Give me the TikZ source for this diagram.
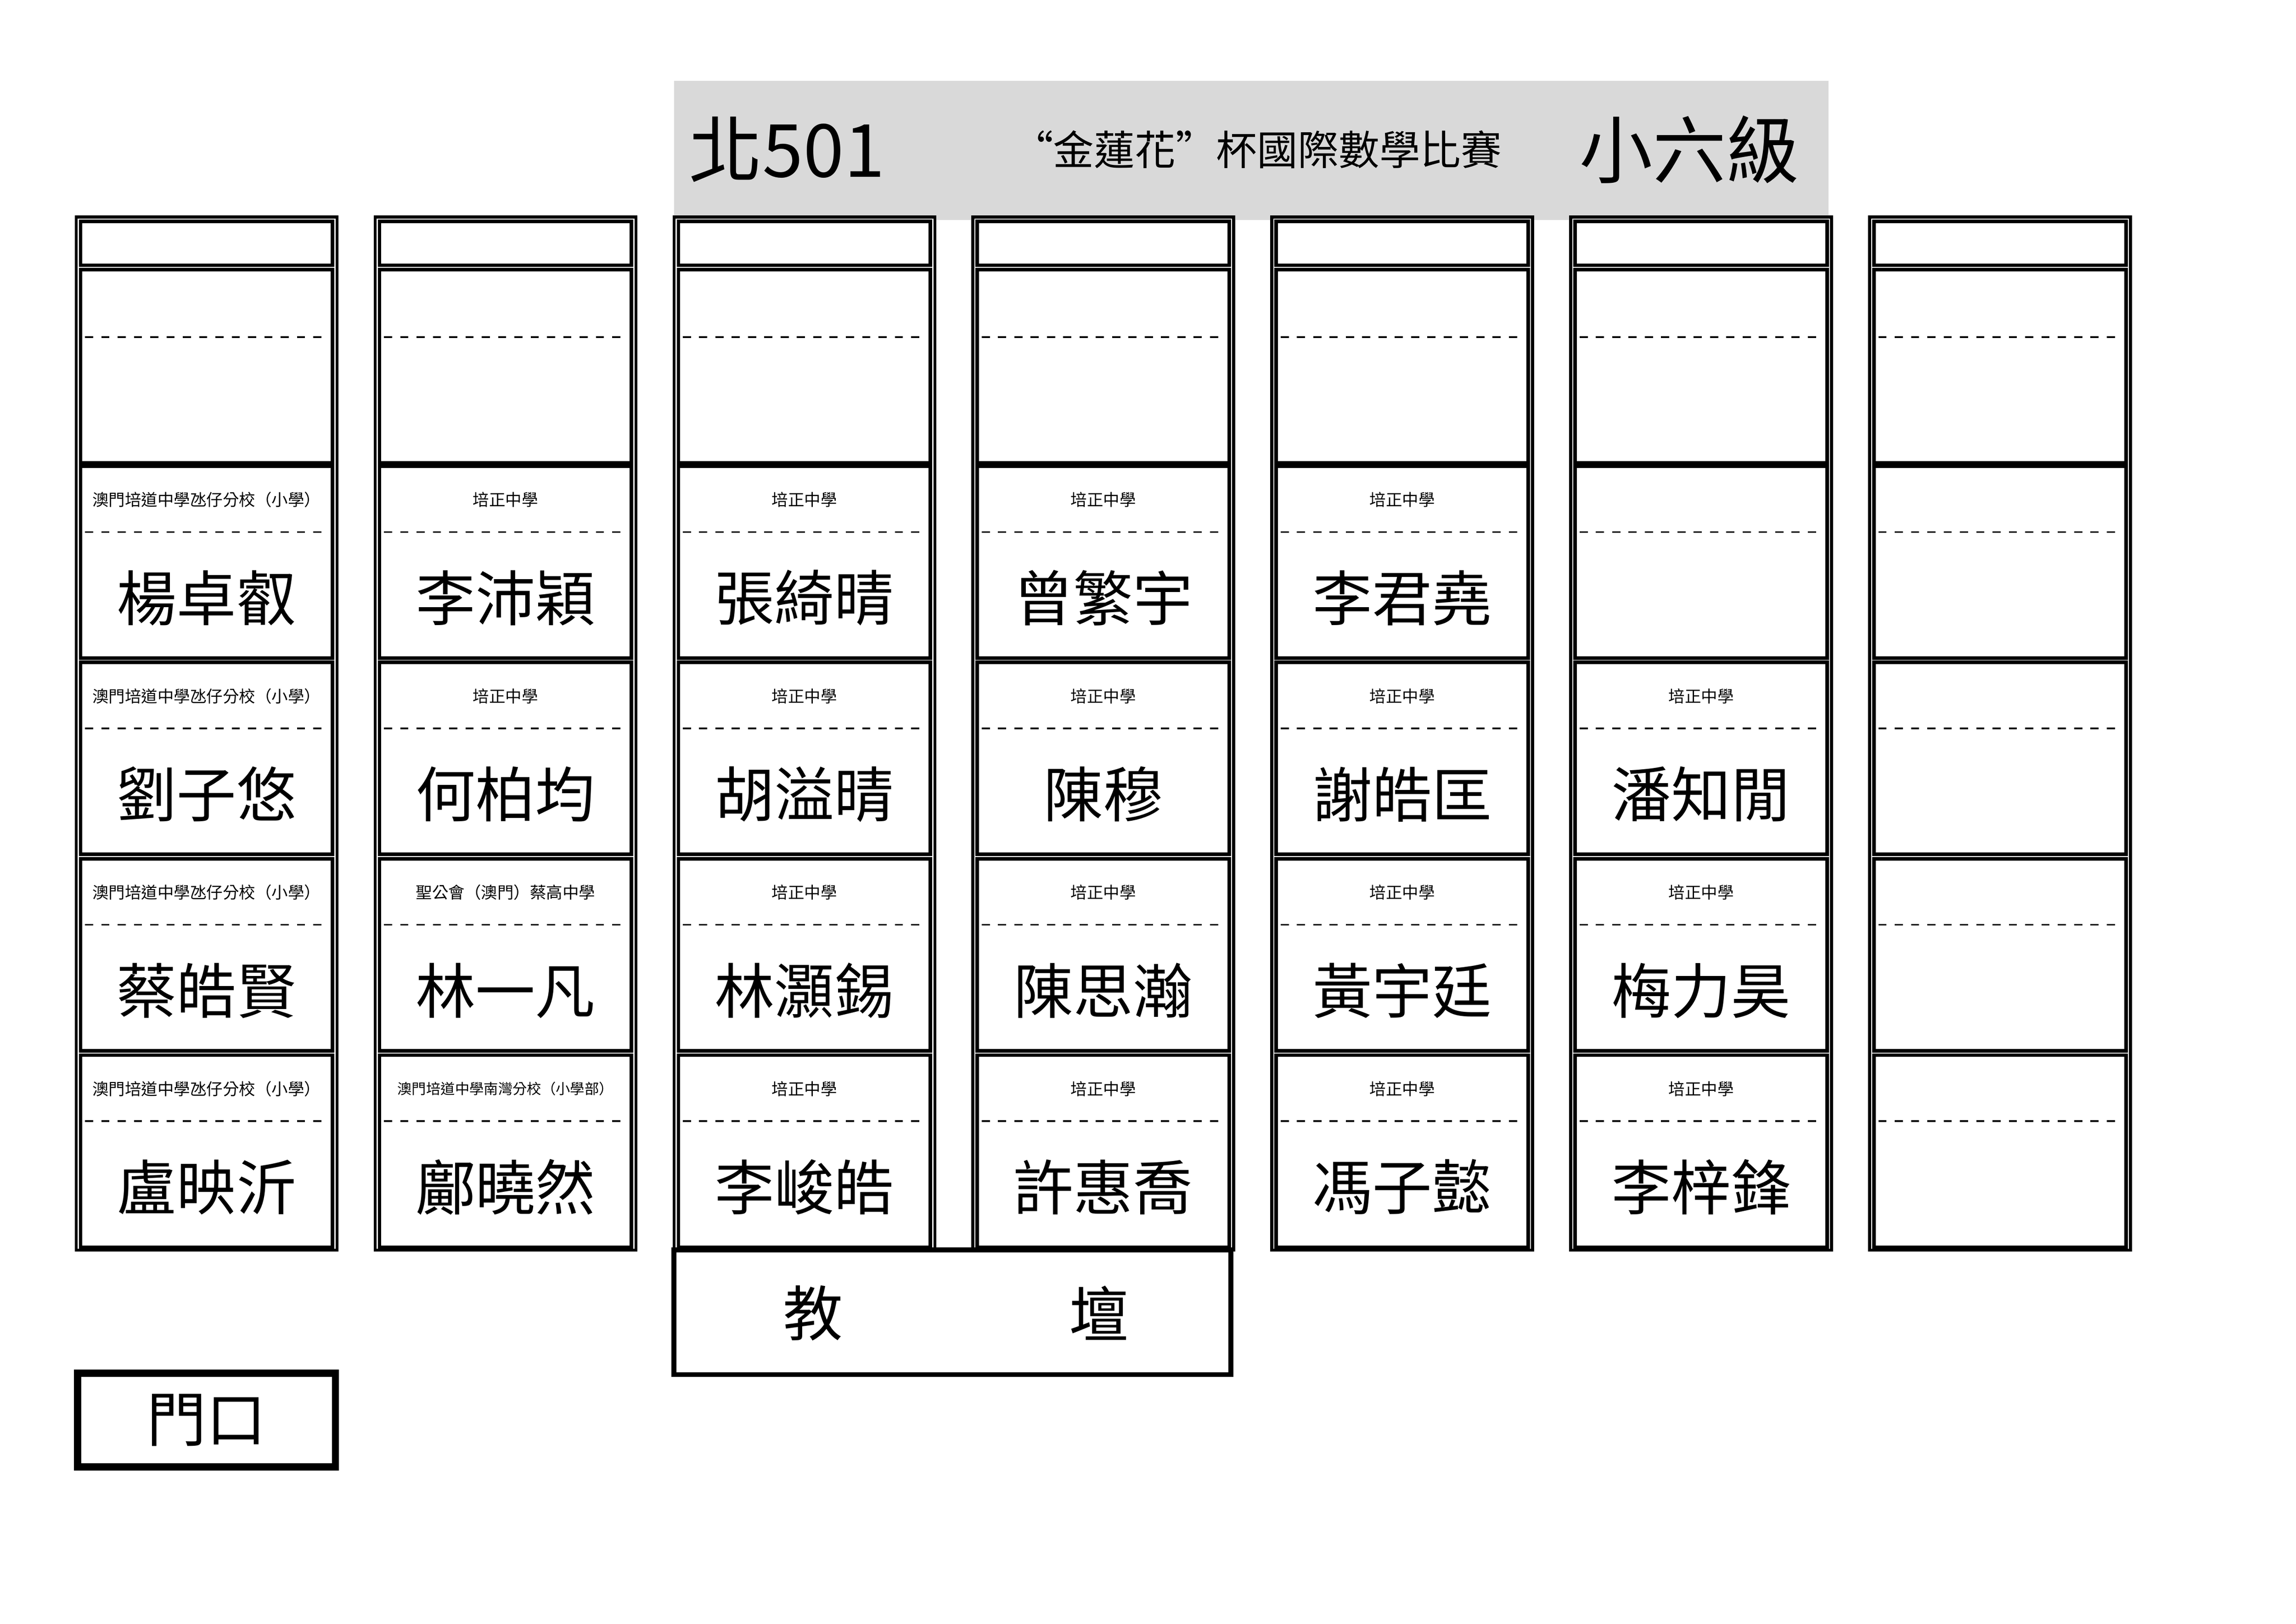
\documentclass[tikz,border=0pt]{standalone}
\usepackage{fontspec}
\setmainfont{Noto Sans CJK TC}
\usetikzlibrary{positioning}
\tikzset{
  ColBox/.style={draw=black,line width=1.1pt},
  CellBox/.style={draw=black,line width=1.3pt},
  CutLine/.style={draw=black,dashed,line width=0.6pt},
  School/.style={font=\fontsize{6}{7}\selectfont,inner sep=0pt},
  Name/.style={font=\fontsize{22}{24}\selectfont,inner sep=0pt},
}
% one seat: column, row, school, name
\newcommand{\seat}[4]{%
  \pgfmathsetmacro{\cx}{52+204*(#1-1)}%
  \pgfmathsetmacro{\cy}{318+134*(#2-1)}%
  \draw[CellBox] (\cx+3,\cy) rectangle (\cx+175,\cy+131);
  \draw[CutLine] (\cx+6,\cy+45) -- (\cx+172,\cy+45);
  \node[School] (s#1#2) at (\cx+89,\cy+23) {#3};
  \node[Name] (n#1#2) at (\cx+89,\cy+90) {#4};
}
\begin{document}
\begin{tikzpicture}[x=0.01895cm,y=-0.01895cm]
  \useasboundingbox (0,0) rectangle (1567,1108);
  % title bar
  \fill[gray!30] (460,55) rectangle (1248,150);
  \node[font=\fontsize{27}{30}\selectfont,anchor=west,inner sep=0pt] (room) at (470,102) {北501};
  \node[font=\fontsize{15}{17}\selectfont,inner sep=0pt] (title) at (858,102) {“金蓮花”杯國際數學比賽};
  \node[font=\fontsize{27}{30}\selectfont,inner sep=0pt] (grade) at (1153,102) {小六級};
  % columns with empty top cells
  \foreach \c in {1,...,7}{
    \pgfmathsetmacro{\cx}{52+204*(\c-1)}
    \draw[ColBox] (\cx,148) rectangle (\cx+178,853);
    \draw[CellBox] (\cx+3,151) rectangle (\cx+175,181);
    \draw[CellBox] (\cx+3,184) rectangle (\cx+175,316);
    \draw[CutLine] (\cx+6,230) -- (\cx+172,230);
  }
  % seats
  \seat{1}{1}{澳門培道中學氹仔分校（小學）}{楊卓叡}
  \seat{1}{2}{澳門培道中學氹仔分校（小學）}{劉子悠}
  \seat{1}{3}{澳門培道中學氹仔分校（小學）}{蔡皓賢}
  \seat{1}{4}{澳門培道中學氹仔分校（小學）}{盧映沂}
  \seat{2}{1}{培正中學}{李沛穎}
  \seat{2}{2}{培正中學}{何柏均}
  \seat{2}{3}{聖公會（澳門）蔡高中學}{林一凡}
  \seat{2}{4}{\fontsize{5.3}{6}\selectfont 澳門培道中學南灣分校（小學部）}{鄺曉然}
  \seat{3}{1}{培正中學}{張綺晴}
  \seat{3}{2}{培正中學}{胡溢晴}
  \seat{3}{3}{培正中學}{林灝錫}
  \seat{3}{4}{培正中學}{李峻皓}
  \seat{4}{1}{培正中學}{曾繁宇}
  \seat{4}{2}{培正中學}{陳穆}
  \seat{4}{3}{培正中學}{陳思瀚}
  \seat{4}{4}{培正中學}{許惠喬}
  \seat{5}{1}{培正中學}{李君堯}
  \seat{5}{2}{培正中學}{謝皓匡}
  \seat{5}{3}{培正中學}{黃宇廷}
  \seat{5}{4}{培正中學}{馮子懿}
  \seat{6}{1}{}{}
  \seat{6}{2}{培正中學}{潘知閒}
  \seat{6}{3}{培正中學}{梅力昊}
  \seat{6}{4}{培正中學}{李梓鋒}
  \seat{7}{1}{}{}
  \seat{7}{2}{}{}
  \seat{7}{3}{}{}
  \seat{7}{4}{}{}
  % teacher desk and door
  \draw[line width=1.8pt] (460,853) rectangle (840,938);
  \node[Name] (desk1) at (555,896) {教};
  \node[Name] (desk2) at (750,896) {壇};
  \draw[line width=2.6pt] (53,937) rectangle (229,1001);
  \node[Name] (door) at (141,969) {門口};
\end{tikzpicture}
\end{document}
